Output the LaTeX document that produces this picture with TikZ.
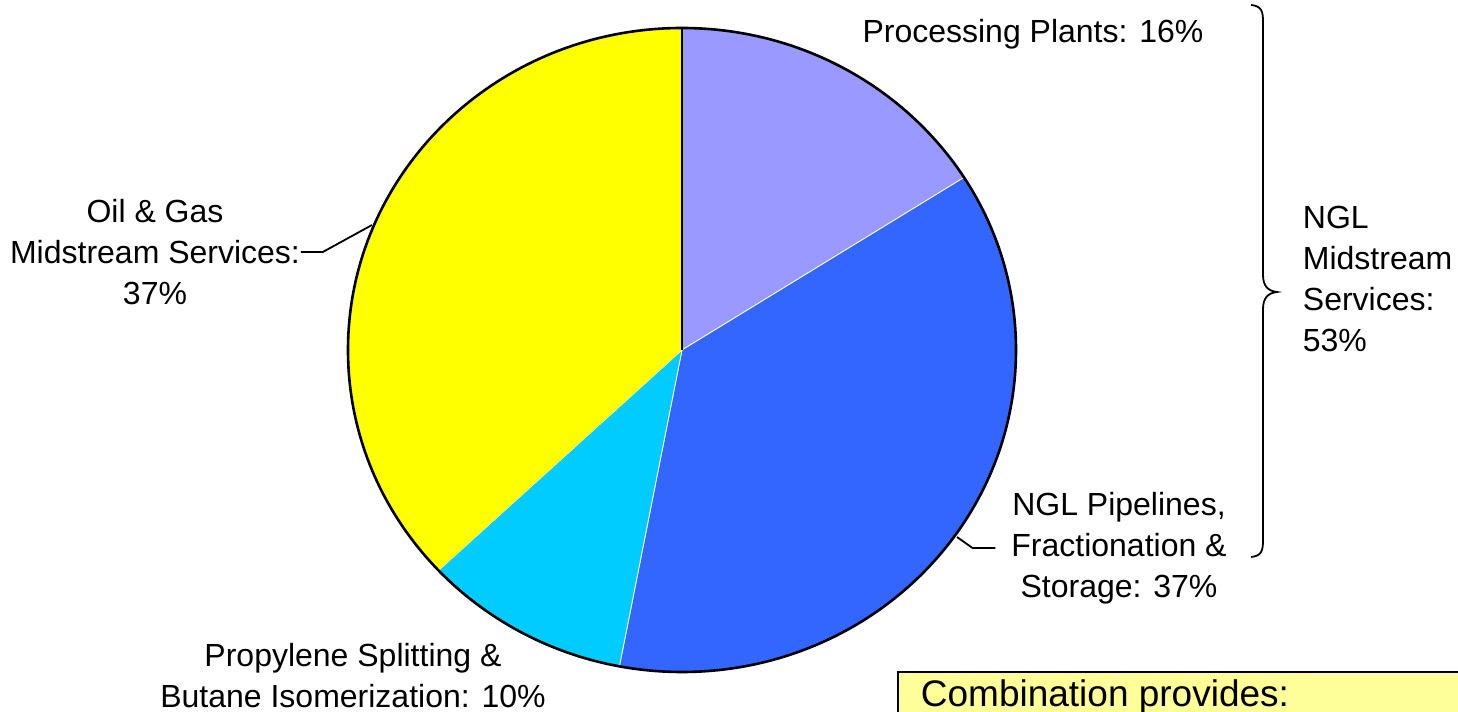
\documentclass[tikz,border=0pt]{standalone}
\usepackage{fontspec}
\setmainfont{Liberation Sans}
\usetikzlibrary{calc}
\usetikzlibrary{positioning}
\definecolor{plantcol}{HTML}{9999FF}
\definecolor{pipecol}{HTML}{3366FF}
\definecolor{propcol}{HTML}{00CCFF}
\definecolor{oilcol}{HTML}{FFFF00}
\definecolor{notecol}{HTML}{FFFF99}

\begin{document}
\begin{tikzpicture}[x=0.5pt,y=0.5pt,line width=0.9pt]
  \tikzstyle{lbl}=[inner sep=0pt, align=center, font=\fontsize{16}{20.5}\selectfont]
  \tikzstyle{slice}=[draw=white, thin]
  \tikzstyle{rim}=[x radius=334, y radius=322]
  \useasboundingbox (0,0) rectangle (1458,712);
  \coordinate (c) at (682,362);
  \coordinate (top) at (682,684);
  \coordinate (oilpt) at (372,487);
  \coordinate (pipept) at (957,175);
  % slices, clockwise from the top
  \filldraw[slice, fill=plantcol] (c) -- (top) arc[rim, start angle=90, end angle=32.4] -- cycle;
  \filldraw[slice, fill=pipecol] (c) -- +(32.4:334 and 322) arc[rim, start angle=32.4, end angle=-100.8] -- cycle;
  \filldraw[slice, fill=propcol] (c) -- +(-100.8:334 and 322) arc[rim, start angle=-100.8, end angle=-136.8] -- cycle;
  \fill[oilcol] (c) -- +(-136.8:334 and 322) arc[rim, start angle=-136.8, end angle=-270] -- cycle;
  \draw[line width=1.1pt] (c) -- (top);
  \draw[line width=1.3pt] (c) ellipse[rim];
  % labels
  \node[lbl, anchor=base] (plants) at (1033,669) {Processing Plants: 16\%};
  \node[lbl] (pipe) at (1119,164) {NGL Pipelines,\\Fractionation \&\\Storage: 37\%};
  \node[lbl] (oil) at (155,460) {Oil \& Gas\\Midstream Services:\\37\%};
  \node[lbl] (prop) at (353,36) {Propylene Splitting \&\\Butane Isomerization: 10\%};
  \node[lbl, align=left, anchor=west] (ngl) at (1302,433) {NGL\\Midstream\\Services:\\53\%};
  \draw (oil.east) -- ++(22,0) -- (oilpt);
  \draw ([xshift=-7.5pt]pipe.west) -- ++(-23,0) -- (pipept);
  % brace
  \draw (1251,707) .. controls (1262,706) and (1263,700) .. (1263,690) -- (1263,437)
    .. controls (1263,426) and (1268,421) .. (1277,420)
    .. controls (1268,419) and (1263,414) .. (1263,403) -- (1263,172)
    .. controls (1263,162) and (1262,156) .. (1251,155);
  % note box
  \filldraw[fill=notecol, line width=1pt] (898,40) rectangle (1470,-20);
  \node[inner sep=0pt, anchor=base west, font=\fontsize{18.5}{22}\selectfont] (note) at (920,5) {Combination provides:};
\end{tikzpicture}
\end{document}
